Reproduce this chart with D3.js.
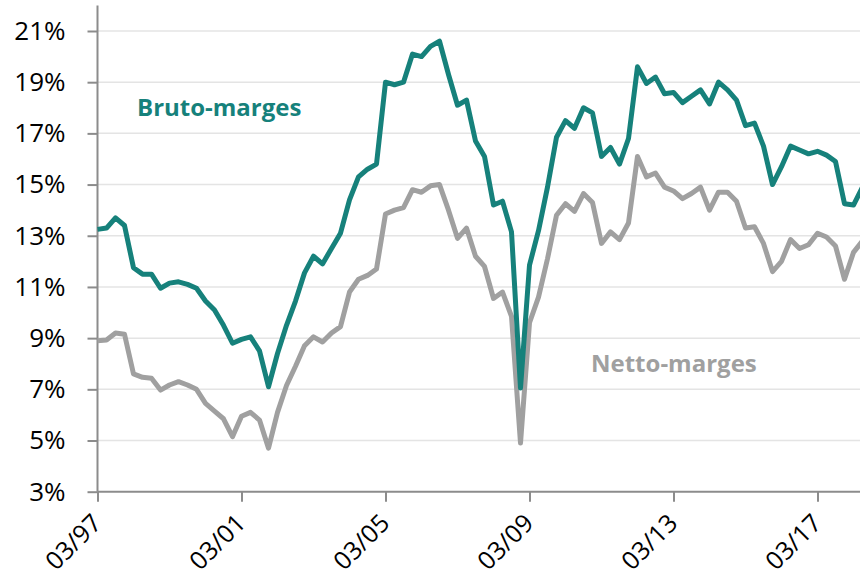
<!DOCTYPE html>
<html>
<head>
<meta charset="utf-8">
<script src="https://cdn.jsdelivr.net/npm/d3@7"></script>
<style>
  body { margin: 0; background: #fff; }
  svg { display: block; font-family: "Open Sans", sans-serif; }
</style>
</head>
<body>
<svg id="chart"></svg>
<script>
// quarterly margins, 03/97 onwards (one value per quarter)
const bruto = [13.25, 13.3, 13.7, 13.4, 11.75, 11.5, 11.5, 10.95, 11.15, 11.2, 11.1, 10.95,
  10.45, 10.1, 9.5, 8.8, 8.95, 9.05, 8.5, 7.1, 8.4, 9.5, 10.45, 11.55,
  12.2, 11.9, 12.5, 13.1, 14.4, 15.3, 15.6, 15.8, 19.0, 18.9, 19.0, 20.1,
  20.0, 20.4, 20.6, 19.3, 18.1, 18.3, 16.7, 16.1, 14.2, 14.35, 13.15, 7.05,
  11.85, 13.2, 14.9, 16.85, 17.5, 17.2, 18.0, 17.8, 16.1, 16.45, 15.8, 16.8,
  19.6, 18.95, 19.2, 18.55, 18.6, 18.2, 18.45, 18.7, 18.15, 19.0, 18.7, 18.3,
  17.3, 17.4, 16.5, 15.0, 15.7, 16.5, 16.35, 16.2, 16.3, 16.15, 15.9, 14.25,
  14.2, 14.9];

const netto = [8.9, 8.93, 9.2, 9.15, 7.6, 7.47, 7.43, 6.97, 7.17, 7.3, 7.17, 7.0,
  6.45, 6.15, 5.85, 5.15, 5.95, 6.1, 5.8, 4.7, 6.1, 7.15, 7.9, 8.7,
  9.05, 8.85, 9.2, 9.45, 10.8, 11.3, 11.45, 11.7, 13.85, 14.0, 14.1, 14.8,
  14.7, 14.95, 15.0, 14.0, 12.9, 13.3, 12.2, 11.8, 10.55, 10.8, 9.85, 4.9,
  9.6, 10.6, 12.1, 13.8, 14.25, 13.95, 14.65, 14.3, 12.7, 13.15, 12.85, 13.5,
  16.1, 15.3, 15.45, 14.9, 14.75, 14.45, 14.65, 14.9, 14.0, 14.7, 14.7, 14.35,
  13.3, 13.35, 12.7, 11.6, 12.0, 12.85, 12.5, 12.65, 13.1, 12.95, 12.6, 11.3,
  12.35, 12.8];

// tick positions (quarter index) and labels
const xTickIdx = [0, 16, 32, 48, 64, 80];
const xTickLabels = ["03/97", "03/01", "03/05", "03/09", "03/13", "03/17"];
const yTicks = [3, 5, 7, 9, 11, 13, 15, 17, 19, 21];

const width = 860, height = 584;
const teal = "#16817b", grey = "#a0a0a0";

const svg = d3.select("#chart")
  .attr("width", width)
  .attr("height", height);

const x = d3.scaleLinear()
  .domain([0, 84])
  .range([97.5, 853.5]);

const y = d3.scaleLinear()
  .domain([3, 22])
  .range([491.7, 5.4]);

// gridlines
svg.append("g")
  .selectAll("line")
  .data(yTicks.filter(d => d > 3))
  .join("line")
  .attr("x1", 97.5)
  .attr("x2", width)
  .attr("y1", d => y(d))
  .attr("y2", d => y(d))
  .attr("stroke", "#e4e4e4")
  .attr("stroke-width", 1.5);

// y axis
const yAxis = svg.append("g")
  .attr("transform", "translate(97.5,0)")
  .call(d3.axisLeft(y).tickValues(yTicks).tickSize(10).tickPadding(22).tickFormat(d => d + "%"));
yAxis.select(".domain").attr("stroke", "#8c8c8c").attr("stroke-width", 2)
  .attr("d", `M0,${y(22)}V${y(3)}`);
yAxis.selectAll(".tick line").attr("stroke", "#8c8c8c").attr("stroke-width", 2);
yAxis.selectAll(".tick text")
  .attr("fill", "#000")
  .style("font-size", "26px")
  .style("font-family", "'Open Sans', sans-serif");

// x axis
const xAxis = svg.append("g")
  .attr("transform", `translate(0,${y(3)})`)
  .call(d3.axisBottom(x).tickValues(xTickIdx).tickSize(10).tickFormat((d, i) => xTickLabels[i]));
xAxis.select(".domain").attr("stroke", "#8c8c8c").attr("stroke-width", 2)
  .attr("d", `M97.5,0H${width}`);
xAxis.selectAll(".tick line").attr("stroke", "#8c8c8c").attr("stroke-width", 2);
xAxis.selectAll(".tick text")
  .attr("fill", "#000")
  .attr("y", 0)
  .attr("dy", 0)
  .attr("text-anchor", "end")
  .attr("transform", "translate(5,33) rotate(-45)")
  .style("font-size", "25px")
  .style("font-family", "'Open Sans', sans-serif");

// lines
const line = d3.line()
  .x((d, i) => x(i))
  .y(d => y(d));

svg.append("path")
  .datum(netto)
  .attr("fill", "none")
  .attr("stroke", grey)
  .attr("stroke-width", 5)
  .attr("stroke-linejoin", "round")
  .attr("d", line);

svg.append("path")
  .datum(bruto)
  .attr("fill", "none")
  .attr("stroke", teal)
  .attr("stroke-width", 5)
  .attr("stroke-linejoin", "round")
  .attr("d", line);

// series labels
svg.append("text")
  .attr("x", 137)
  .attr("y", 116)
  .attr("fill", teal)
  .style("font-size", "24px")
  .style("font-weight", "bold")
  .text("Bruto-marges");

svg.append("text")
  .attr("x", 591)
  .attr("y", 372)
  .attr("fill", grey)
  .style("font-size", "24px")
  .style("font-weight", "bold")
  .text("Netto-marges");
</script>
</body>
</html>
